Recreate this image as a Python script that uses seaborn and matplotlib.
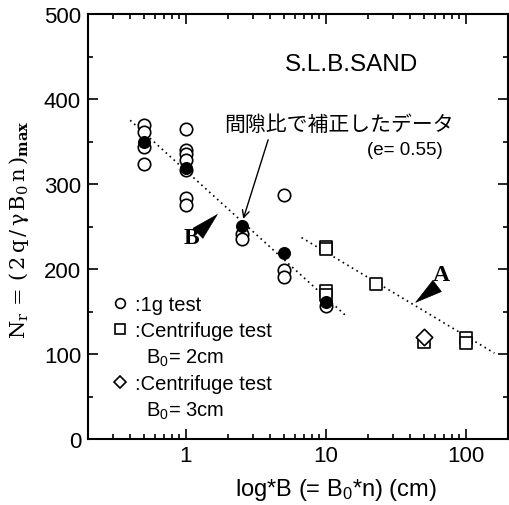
import numpy as np
import pandas as pd
import matplotlib
matplotlib.use('Agg')
import matplotlib.pyplot as plt
import seaborn as sns
from matplotlib.lines import Line2D
from matplotlib.ticker import LogLocator, MultipleLocator, NullFormatter, FixedLocator, FixedFormatter

# ---------------- data ----------------
# 1g test (open circles)
x_1g = [0.5, 0.5, 0.5, 0.5,
        1, 1, 1, 1, 1, 1, 1,
        2.5, 2.5,
        5, 5, 5,
        10]
y_1g = [369, 361, 344, 324,
        365, 340, 335, 328, 316, 283, 275,
        241, 235,
        287, 199, 191,
        157]
# void-ratio corrected data (filled circles, e = 0.55)
x_corr = [0.5, 1, 2.5, 5, 10]
y_corr = [350, 319, 251, 219, 161]
# centrifuge test B0 = 2cm (squares)
x_c2 = [10, 10, 10, 10, 22.8, 50, 100, 100]
y_c2 = [226, 223, 174, 170, 182, 114, 119, 113]
# centrifuge test B0 = 3cm (diamond)
x_c3 = [50]
y_c3 = [120]
# trend lines
xB = [0.4, 13.7]
yB = [375, 146]
xA = [6.7, 160]
yA = [237, 101]

x_ticks = [1, 10, 100]
x_ticklabels = ['1', '10', '100']
y_ticks = [0, 100, 200, 300, 400, 500]

# ---------------- style ----------------
sns.set_style('ticks')
plt.rcParams['font.family'] = ['Liberation Sans', 'Noto Sans CJK JP', 'DejaVu Sans']
plt.rcParams['mathtext.fontset'] = 'custom'
plt.rcParams['mathtext.rm'] = 'Liberation Sans'
plt.rcParams['mathtext.it'] = 'Liberation Sans:italic'
plt.rcParams['mathtext.bf'] = 'Liberation Sans:bold'
plt.rcParams['text.color'] = 'black'
plt.rcParams['axes.labelcolor'] = 'black'

fig = plt.figure(figsize=(5.09, 5.06), dpi=100)
ax = fig.add_axes([88 / 509, 1 - 440 / 506, 420 / 509, 425 / 506])
ax.set_xscale('log')

line_kw = dict(color='black', linestyle=(0, (1, 2.2)), linewidth=1.2, sort=False, ax=ax)
sns.lineplot(x=xB, y=yB, **line_kw)
sns.lineplot(x=xA, y=yA, **line_kw)

sns.scatterplot(x=x_1g, y=y_1g, marker='o', s=80, color='white', edgecolor='black', linewidth=1.2, ax=ax, zorder=3)
sns.scatterplot(x=x_corr, y=y_corr, marker='o', s=70, color='black', edgecolor='black', linewidth=1.0, ax=ax, zorder=4)
sns.scatterplot(x=x_c2, y=y_c2, marker='s', s=75, color='white', edgecolor='black', linewidth=1.2, ax=ax, zorder=3)
sns.scatterplot(x=x_c3, y=y_c3, marker='D', s=70, color='white', edgecolor='black', linewidth=1.2, ax=ax, zorder=4)

ax.set_xlim(0.2, 200)
ax.set_ylim(0, 500)

# ticks
ax.xaxis.set_major_locator(FixedLocator(x_ticks))
ax.xaxis.set_major_formatter(FixedFormatter(x_ticklabels))
ax.xaxis.set_minor_locator(LogLocator(base=10, subs=np.arange(2, 10)))
ax.xaxis.set_minor_formatter(NullFormatter())
ax.yaxis.set_major_locator(FixedLocator(y_ticks))
ax.yaxis.set_minor_locator(MultipleLocator(50))
ax.tick_params(which='both', direction='in', top=True, right=True, width=1.2, colors='black')
ax.tick_params(which='major', length=7, labelsize=16)
ax.tick_params(which='minor', length=3.5)
ax.tick_params(axis='x', which='major', pad=4)
ax.tick_params(axis='y', which='major', pad=5)
for sp in ax.spines.values():
    sp.set_linewidth(1.5)
    sp.set_color('black')

# labels
ax.set_xlabel(r'log*B (= B$_0$*n) (cm)', fontsize=17)
ax.xaxis.set_label_coords(0.59, -0.118)
ax.xaxis.label.set_va('center')
ax.set_ylabel(r'$\mathrm{N_r\,=\,(\,2\,q\,/\,\gamma\,B_0\,n\,)_{\mathbf{max}}}$', fontsize=15,
              math_fontfamily='dejavuserif')
ax.yaxis.set_label_coords(-0.164, 0.494)
ax.yaxis.label.set_va('center')

# annotations
ax.text(15.3, 441, 'S.L.B.SAND', fontsize=17.5, ha='center', va='center')
ax.text(12.4, 371, '間隙比で補正したデータ', fontsize=15, ha='center', va='center',
        family=['Noto Sans CJK JP', 'DejaVu Sans'])
ax.text(68.5, 341, '(e= 0.55)', fontsize=13.5, ha='right', va='center')
ax.annotate('', xy=(2.57, 259), xytext=(3.87, 352),
            arrowprops=dict(arrowstyle='->,head_length=0.5,head_width=0.25', color='black', lw=1.0,
                            shrinkA=0, shrinkB=0))

ax.text(1.1, 237, 'B', fontsize=17, fontweight='bold', family='Liberation Serif', ha='center', va='center')
ax.annotate('', xy=(1.70, 265), xytext=(1.237, 243),
            arrowprops=dict(arrowstyle='-|>,head_length=1.6,head_width=0.42', color='black', lw=0.5,
                            shrinkA=0, shrinkB=0, mutation_scale=12))
ax.text(66.3, 193, 'A', fontsize=17, fontweight='bold', family='Liberation Serif', ha='center', va='center')
ax.annotate('', xy=(43.2, 160), xytext=(59, 177),
            arrowprops=dict(arrowstyle='-|>,head_length=1.6,head_width=0.42', color='black', lw=0.5,
                            shrinkA=0, shrinkB=0, mutation_scale=12))

# legend
blank = Line2D([], [], linestyle='none', marker=None)
handles = [
    Line2D([], [], linestyle='none', marker='o', ms=7, mfc='white', mec='black', mew=1.2),
    Line2D([], [], linestyle='none', marker='s', ms=7, mfc='white', mec='black', mew=1.2),
    blank,
    Line2D([], [], linestyle='none', marker='D', ms=6.5, mfc='white', mec='black', mew=1.2),
    blank,
]
labels = [':1g test', ':Centrifuge test', '  B$_0$= 2cm', ':Centrifuge test', '  B$_0$= 3cm']
ax.legend(handles, labels, loc='upper left', bbox_to_anchor=(0.057, 0.339), frameon=False,
          fontsize=14.5, handlelength=0.8, handletextpad=0.35, labelspacing=0.33,
          borderpad=0, borderaxespad=0)

fig.savefig('out.png', dpi=100)
